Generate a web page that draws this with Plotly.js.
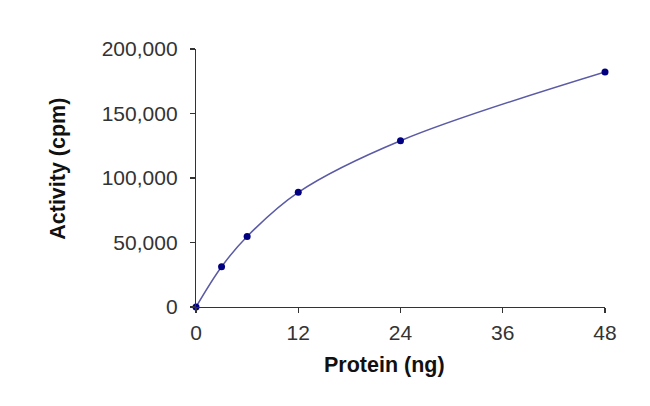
<!DOCTYPE html>
<html>
<head>
<meta charset="utf-8">
<script src="https://cdn.plot.ly/plotly-3.0.1.min.js"></script>
<style>html,body{margin:0;padding:0;background:#fff;}#chart{width:650px;height:406px;}</style>
</head>
<body>
<div id="chart"></div>
<script>
const proteinNg = [0, 3, 6, 12, 24, 48];
const activityCpm = [0, 31200, 54700, 88900, 128900, 182200];
const xTicks = [0, 12, 24, 36, 48];
const yTicks = [0, 50000, 100000, 150000, 200000];
const yTickLabels = ['0', '50,000', '100,000', '150,000', '200,000'];
const xTitle = 'Protein (ng)';
const yTitle = 'Activity (cpm)';

const trace = {
  x: proteinNg,
  y: activityCpm,
  type: 'scatter',
  mode: 'lines+markers',
  line: {color: '#5a5aa6', width: 1.5, shape: 'spline', smoothing: 1},
  marker: {color: '#000080', size: 7, symbol: 'circle'},
  cliponaxis: false,
  hoverinfo: 'none'
};

const titleFont = {size: 21.5, color: '#111', family: 'Liberation Sans, Arial, sans-serif', weight: 'bold'};

const layout = {
  width: 650, height: 406,
  margin: {l: 196, r: 45, t: 49, b: 99},
  paper_bgcolor: '#fff', plot_bgcolor: '#fff',
  showlegend: false,
  font: {family: 'Liberation Sans, Arial, sans-serif', color: '#333'},
  xaxis: {
    range: [0, 48], tickvals: xTicks, ticktext: xTicks.map(String),
    showgrid: false, zeroline: false, showline: true, linecolor: '#333', linewidth: 1.2,
    ticks: 'outside', ticklen: 5, tickcolor: '#333', tickwidth: 1.2,
    ticklabelstandoff: 2,
    tickfont: {size: 21, color: '#333'}
  },
  yaxis: {
    range: [0, 200000], tickvals: yTicks, ticktext: yTickLabels,
    showgrid: false, zeroline: false, showline: true, linecolor: '#333', linewidth: 1.2,
    ticks: 'outside', ticklen: 5, tickcolor: '#333', tickwidth: 1.2,
    ticklabelstandoff: 8,
    tickfont: {size: 21, color: '#333'}
  },
  annotations: [
    {text: xTitle, xref: 'paper', yref: 'paper', x: (384 - 196) / 409, y: -(366 - 307.5) / 258.5,
     xanchor: 'center', yanchor: 'middle', showarrow: false, font: titleFont},
    {text: yTitle, xref: 'paper', yref: 'paper', x: -(196 - 58) / 409, y: (307.5 - 169) / 258.5,
     xanchor: 'center', yanchor: 'middle', showarrow: false, textangle: -90, font: titleFont}
  ]
};

Plotly.newPlot('chart', [trace], layout, {displayModeBar: false, staticPlot: true});
</script>
</body>
</html>
